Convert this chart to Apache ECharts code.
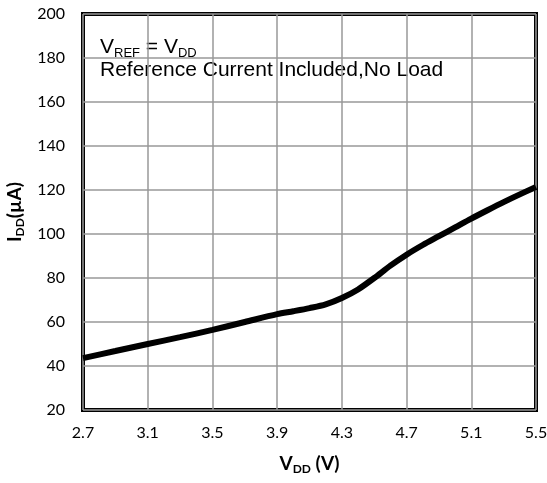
<!DOCTYPE html>
<html><head><meta charset="utf-8">
<script src="https://cdn.jsdelivr.net/npm/echarts@6/dist/echarts.min.js"></script>
<style>html,body{margin:0;padding:0;background:#fff}#c{width:547px;height:483px}</style>
</head><body><div id="c"></div>
<script>
const vdd = [2.7, 2.9, 3.1, 3.3, 3.5, 3.7, 3.9, 4.0, 4.1, 4.2, 4.3, 4.4, 4.5, 4.6, 4.7, 4.8, 4.9, 5.0, 5.1, 5.2, 5.3, 5.4, 5.5];
const idd = [43.6, 46.8, 50, 53.1, 56.4, 60, 63.6, 64.9, 66.3, 68.0, 70.9, 74.8, 80, 85.6, 90.6, 95, 99, 103, 107, 110.8, 114.5, 118, 121.4];
const xTicks = [2.7, 3.1, 3.5, 3.9, 4.3, 4.7, 5.1, 5.5];
const yMin = 20, yMax = 200, yStep = 20;
const xMin = 2.7, xMax = 5.5;

const chart = echarts.init(document.getElementById('c'));
const tickFont = {fontFamily: 'Lato', fontSize: 16, color: '#000'};
const titleRich = {
  b: {fontFamily: 'Lato', fontWeight: 'bold', fontSize: 19, color: '#000', lineHeight: 22},
  s: {fontFamily: 'Lato', fontWeight: 'bold', fontSize: 12, color: '#000', lineHeight: 12, padding: [10, 0, 0, 0]}
};
chart.setOption({
  animation: false,
  grid: {left: 83, right: 11, top: 14, bottom: 73, outerBoundsMode: 'none', containLabel: false,
    show: true, borderColor: '#000', borderWidth: 4, backgroundColor: 'transparent'},
  xAxis: {
    type: 'value', min: xMin, max: xMax, interval: 0.4,
    axisLine: {show: false}, axisTick: {show: false},
    splitLine: {show: true, lineStyle: {color: '#999', width: 1.5}},
    axisLabel: Object.assign({margin: 15, formatter: v => {
      const t = xTicks.find(k => Math.abs(k - v) < 1e-6); return t !== undefined ? t.toFixed(1) : '';
    }}, tickFont),
    name: '{b|V}{s|DD}{b| (V)}', nameLocation: 'middle', nameGap: 43,
    nameTextStyle: {rich: titleRich}
  },
  yAxis: {
    type: 'value', min: yMin, max: yMax, interval: yStep,
    axisLine: {show: false}, axisTick: {show: false},
    splitLine: {show: true, lineStyle: {color: '#999', width: 1.5}},
    axisLabel: Object.assign({margin: 18}, tickFont),
    name: '{b|I}{s|DD}{b|(µA)}', nameLocation: 'middle', nameGap: 54,
    nameTextStyle: {rich: titleRich}
  },
  series: [{
    type: 'line', data: vdd.map((x, i) => [x, idd[i]]), smooth: 0.3, symbol: 'none',
    lineStyle: {color: '#000', width: 6}, clip: false, z: 3
  }],
  graphic: [{
    type: 'group', left: 100, top: 35, z: 10,
    children: [
      {type: 'rect', shape: {x: 0, y: 0, width: 356, height: 53}, style: {fill: '#fff'}},
      {type: 'text', x: 0, y: 1, style: {
        text: '{a|V}{s|REF}{a| = V}{s|DD}\n{a|Reference Current Included,No Load}',
        rich: {
          a: {fontFamily: 'Liberation Sans', fontSize: 21, color: '#000', lineHeight: 23},
          s: {fontFamily: 'Liberation Sans', fontSize: 13, color: '#000', lineHeight: 13, padding: [11, 0, 0, 0]}
        }
      }}
    ]
  }]
});
</script></body></html>
